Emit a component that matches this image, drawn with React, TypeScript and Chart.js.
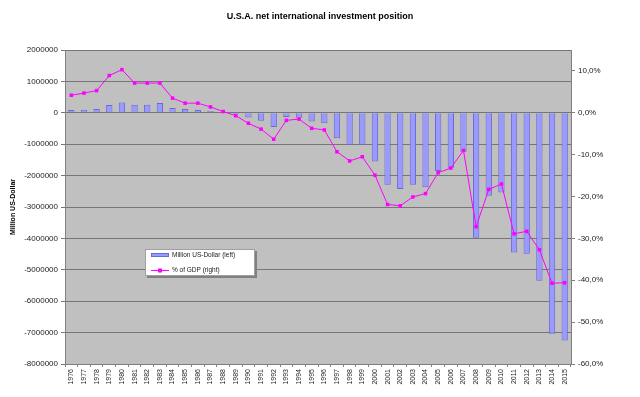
import React, { useEffect, useRef } from "react";
import { Chart, registerables } from "chart.js";

Chart.register(...registerables);

const titleText = "U.S.A. net international investment position";
const leftAxisTitle = "Million US-Dollar";
const seriesBarLabel = "Million US-Dollar (left)";
const seriesLineLabel = "% of GDP (right)";

const years = [
  "1976", "1977", "1978", "1979", "1980", "1981", "1982", "1983", "1984", "1985",
  "1986", "1987", "1988", "1989", "1990", "1991", "1992", "1993", "1994", "1995",
  "1996", "1997", "1998", "1999", "2000", "2001", "2002", "2003", "2004", "2005",
  "2006", "2007", "2008", "2009", "2010", "2011", "2012", "2013", "2014", "2015",
];

const niipMillionUsd = [
  90000, 100000, 120000, 250000, 330000, 260000, 260000, 310000, 150000, 120000,
  90000, 60000, 10000, -40000, -150000, -250000, -450000, -130000, -160000, -280000,
  -330000, -810000, -1020000, -1020000, -1550000, -2290000, -2430000, -2290000, -2370000, -1850000,
  -1750000, -1240000, -3980000, -2640000, -2540000, -4450000, -4490000, -5350000, -7040000, -7250000,
];

const pctOfGdp = [
  4.2, 4.7, 5.3, 8.9, 10.3, 7.1, 7.1, 7.1, 3.5, 2.3,
  2.3, 1.4, 0.3, -0.7, -2.5, -3.9, -6.3, -1.8, -1.5, -3.7,
  -4.1, -9.3, -11.5, -10.5, -14.9, -21.9, -22.2, -20.1, -19.3, -14.3,
  -13.2, -9.0, -27.2, -18.3, -17.0, -28.9, -28.3, -32.7, -40.7, -40.6,
];

const leftTickValues = [2000000, 1000000, 0, -1000000, -2000000, -3000000, -4000000, -5000000, -6000000, -7000000, -8000000];
const rightTickValues = [10, 0, -10, -20, -30, -40, -50, -60];

const FONT = "'Liberation Sans', Arial, sans-serif";
const TEXT = "#222222";

const decorPlugin = {
  id: "decor",
  beforeDraw(chart: any) {
    const { ctx, chartArea } = chart;
    ctx.save();
    ctx.fillStyle = "#ffffff";
    ctx.fillRect(0, 0, chart.width, chart.height);
    ctx.fillStyle = "#c0c0c0";
    ctx.fillRect(chartArea.left, chartArea.top, chartArea.right - chartArea.left, chartArea.bottom - chartArea.top);
    ctx.restore();
  },
  afterDraw(chart: any) {
    const { ctx } = chart;
    ctx.save();
    // title
    ctx.fillStyle = "#000000";
    ctx.font = `bold 9px ${FONT}`;
    ctx.textAlign = "center";
    ctx.textBaseline = "middle";
    ctx.fillText(titleText, 320, 17);
    // legend box
    const lx = 145, ly = 249, lw = 110, lh = 27;
    ctx.fillStyle = "#808080";
    ctx.fillRect(lx + 2, ly + 2, lw, lh);
    ctx.fillStyle = "#ffffff";
    ctx.fillRect(lx, ly, lw, lh);
    ctx.strokeStyle = "#a0a0a0";
    ctx.lineWidth = 1;
    ctx.strokeRect(lx + 0.5, ly + 0.5, lw - 1, lh - 1);
    // bar swatch
    ctx.fillStyle = "#9999ff";
    ctx.fillRect(151, 253, 18, 4);
    ctx.strokeStyle = "#6a6ad0";
    ctx.strokeRect(151.5, 253.5, 17, 3);
    // line swatch
    ctx.strokeStyle = "#ff00ff";
    ctx.beginPath();
    ctx.moveTo(151, 270.5);
    ctx.lineTo(169, 270.5);
    ctx.stroke();
    ctx.fillStyle = "#ff00ff";
    ctx.fillRect(158, 268.5, 4, 4);
    ctx.fillStyle = TEXT;
    ctx.font = `6.5px ${FONT}`;
    ctx.textAlign = "left";
    ctx.textBaseline = "middle";
    ctx.fillText(seriesBarLabel, 172, 255);
    ctx.fillText(seriesLineLabel, 172, 270.5);
    ctx.restore();
  },
};

export default function App() {
  const canvasRef = useRef<HTMLCanvasElement | null>(null);

  useEffect(() => {
    const canvas = canvasRef.current;
    if (!canvas) return;
    const chart = new Chart(canvas, {
      type: "bar",
      data: {
        labels: years,
        datasets: [
          {
            type: "line",
            label: seriesLineLabel,
            data: pctOfGdp,
            yAxisID: "y1",
            borderColor: "#ff00ff",
            backgroundColor: "#ff00ff",
            borderWidth: 1,
            pointStyle: "rect",
            pointRadius: 2.5,
            pointBorderWidth: 0,
            pointBackgroundColor: "#ff00ff",
            tension: 0,
            order: 0,
          } as any,
          {
            type: "bar",
            label: seriesBarLabel,
            data: niipMillionUsd,
            yAxisID: "y",
            backgroundColor: "#9999ff",
            borderColor: "#6a6ad0",
            borderWidth: 1,
            barPercentage: 0.5,
            categoryPercentage: 1,
            order: 1,
          } as any,
        ],
      },
      options: {
        responsive: false,
        animation: false,
        devicePixelRatio: 1,
        layout: { padding: { top: 50, left: 0, right: 0, bottom: 0 } },
        plugins: {
          legend: { display: false },
          title: { display: false },
          tooltip: { enabled: false },
        },
        scales: {
          x: {
            grid: {
              display: true,
              drawOnChartArea: false,
              drawTicks: true,
              tickLength: 3,
              color: "#808080",
            },
            border: { display: true, color: "#808080", width: 1 },
            ticks: {
              autoSkip: false,
              minRotation: 90,
              maxRotation: 90,
              padding: 2,
              color: TEXT,
              font: { family: FONT, size: 7 },
            },
            afterFit(scale: any) {
              scale.height = 33;
            },
          },
          y: {
            position: "left",
            min: -8000000,
            max: 2000000,
            afterBuildTicks(scale: any) {
              scale.ticks = leftTickValues.map((v) => ({ value: v }));
            },
            grid: {
              color: "#767676",
              lineWidth: 1,
              tickLength: 4,
              drawTicks: true,
            },
            border: { display: true, color: "#808080", width: 1 },
            ticks: {
              padding: 3,
              color: TEXT,
              font: { family: FONT, size: 8 },
              callback: (v: any) => String(v),
            },
            title: {
              display: true,
              text: leftAxisTitle,
              color: "#000000",
              font: { family: FONT, size: 7, weight: "bold" },
              padding: { top: 9, bottom: 0 },
            },
            afterFit(scale: any) {
              scale.width = 65;
            },
          },
          y1: {
            position: "right",
            min: -60,
            max: 15,
            afterBuildTicks(scale: any) {
              scale.ticks = rightTickValues.map((v) => ({ value: v }));
            },
            grid: {
              drawOnChartArea: false,
              drawTicks: true,
              tickLength: 4,
              color: "#808080",
            },
            border: { display: true, color: "#808080", width: 1 },
            ticks: {
              padding: 3,
              color: TEXT,
              font: { family: FONT, size: 8 },
              callback: (v: any) => Number(v).toFixed(1).replace(".", ",") + "%",
            },
            afterFit(scale: any) {
              scale.width = 69;
            },
          },
        },
      },
      plugins: [decorPlugin],
    });
    return () => chart.destroy();
  }, []);

  return (
    <div style={{ position: "absolute", left: 0, top: 0, width: 640, height: 397, background: "#ffffff" }}>
      <canvas ref={canvasRef} width={640} height={397} style={{ display: "block", width: 640, height: 397 }} />
    </div>
  );
}
